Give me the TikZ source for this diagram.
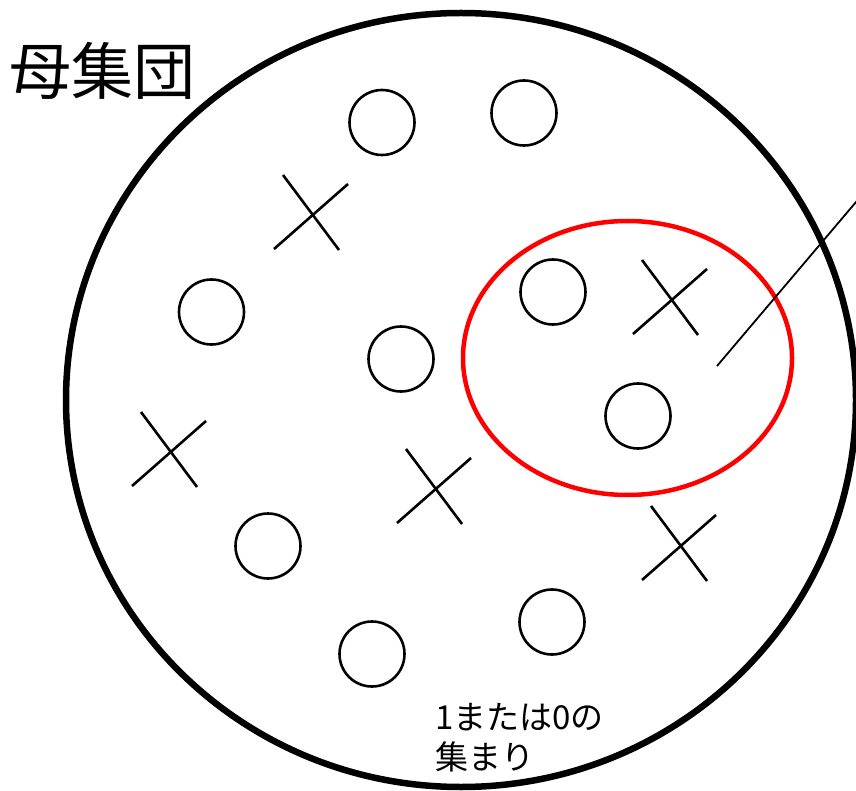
\documentclass[tikz,border=0pt]{standalone}
\usepackage{fontspec}
\newfontfamily\jpfont{Noto Sans CJK JP}
\begin{document}
\begin{tikzpicture}[x=1pt,y=-1pt,
  dot/.style={circle,draw,line width=2.6pt,minimum size=65pt,inner sep=0pt},
  xline/.style={line width=2.6pt},
  lbl/.style={inner sep=0pt,font=\jpfont}]
\useasboundingbox (0,0) rectangle (856,791);
\begin{scope}
\clip (0,0) rectangle (856,791);
\draw[line width=6.5pt] (461,400) ellipse [x radius=395pt, y radius=387pt];
\draw[red, line width=4.5pt] (627.5,358) ellipse [x radius=164.5pt, y radius=137pt];
\coordinate (lineA) at (717,366);
\coordinate (lineB) at (880,173.7);
\draw[line width=1.8pt] (lineA) -- (lineB);
\end{scope}
% circles
\node[dot] (c1) at (382,122.5) {};
\node[dot] (c2) at (524,113) {};
\node[dot] (c3) at (211.5,312) {};
\node[dot] (c4) at (401,359) {};
\node[dot] (c5) at (553,292) {};
\node[dot] (c6) at (638,416) {};
\node[dot] (c7) at (268,546) {};
\node[dot] (c8) at (552,622) {};
\node[dot] (c9) at (372,654) {};
% crosses
\foreach \x/\y in {274/175, 633/260, 132/412, 397/449, 642/506}{
  \draw[xline] (\x+9,\y) -- (\x+65,\y+75);
  \draw[xline] (\x,\y+74) -- (\x+74,\y+9);
}
% labels
\node[lbl, anchor=north west, font=\jpfont\fontsize{62pt}{68pt}\selectfont] (title) at (9,42) {母集団};
\node[lbl, anchor=north west, align=left, font=\jpfont\fontsize{33pt}{40pt}\selectfont] (note) at (435,703) {1または0の\\集まり};
\end{tikzpicture}
\end{document}
